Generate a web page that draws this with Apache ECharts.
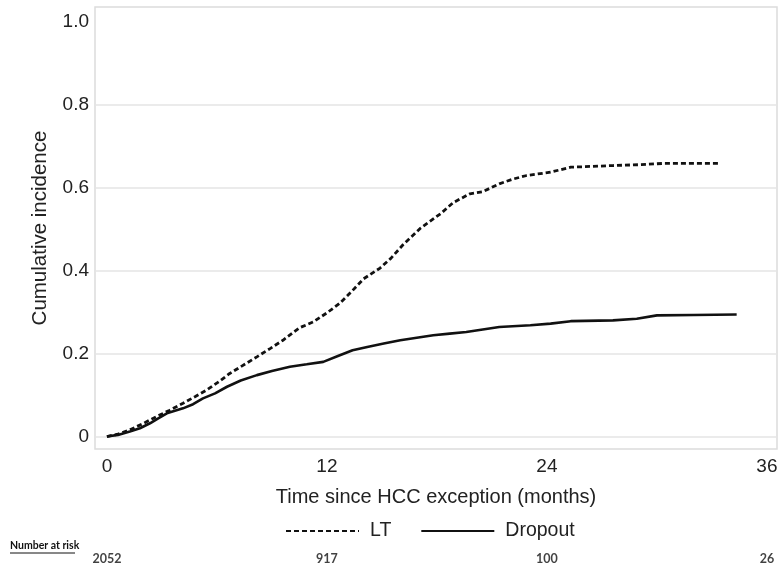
<!DOCTYPE html>
<html>
<head>
<meta charset="utf-8">
<script src="https://cdn.jsdelivr.net/npm/echarts@6/dist/echarts.min.js"></script>
<style>
    html, body { margin: 0; padding: 0; background: #fff; }
    #main { width: 783px; height: 574px; }
</style>
</head>
<body>
<div id="main"></div>
<script>
    // LT curve (months, cumulative incidence)
    var ltTime = [0, 0.6, 1.25, 2.0, 2.7, 3.4, 4.15, 4.8, 5.44, 6.1, 6.7, 7.4, 8.18, 8.9, 9.6, 10.5, 11.25, 12.0, 12.7, 13.4, 14.0, 14.9, 15.5, 16.15, 17.1, 18.2, 18.9, 19.8, 20.5, 21.4, 22.2, 22.9, 24.2, 25.3, 26.5, 27.6, 29.0, 30.3, 31.8, 33.4];
    var ltValue = [0, 0.006, 0.016, 0.032, 0.048, 0.063, 0.08, 0.096, 0.112, 0.132, 0.152, 0.171, 0.192, 0.212, 0.232, 0.262, 0.276, 0.298, 0.321, 0.352, 0.38, 0.406, 0.43, 0.462, 0.502, 0.537, 0.564, 0.585, 0.59, 0.609, 0.621, 0.629, 0.637, 0.649, 0.651, 0.653, 0.655, 0.658, 0.658, 0.658];
    // Dropout curve
    var dropTime = [0, 0.6, 1.25, 1.8, 2.35, 2.8, 3.27, 4.15, 4.7, 5.24, 5.9, 6.55, 7.3, 8.18, 9.0, 9.98, 10.9, 11.8, 12.6, 13.4, 14.2, 15.1, 16.0, 16.9, 17.8, 18.7, 19.6, 20.5, 21.4, 23.1, 24.2, 25.3, 27.6, 28.9, 30.0, 32.0, 34.35];
    var dropValue = [0, 0.004, 0.012, 0.02, 0.032, 0.044, 0.056, 0.068, 0.078, 0.092, 0.104, 0.12, 0.135, 0.148, 0.158, 0.168, 0.174, 0.18, 0.194, 0.208, 0.216, 0.224, 0.232, 0.238, 0.244, 0.248, 0.252, 0.258, 0.264, 0.268, 0.272, 0.278, 0.28, 0.284, 0.292, 0.293, 0.294];
    // number at risk
    var riskTime = [0, 12, 24, 36];
    var riskCount = ['2052', '917', '100', '26'];
    var xTicks = [0, 12, 24, 36];
    var yTicks = [0, 0.2, 0.4, 0.6, 0.8, 1.0];
    var yGrid = [0, 0.2, 0.4, 0.6, 0.8];

    function pairs(xs, ys) {
        var out = [];
        for (var i = 0; i < xs.length; i++) {
            out.push([xs[i], ys[i]]);
        }
        return out;
    }

    var chart = echarts.init(document.getElementById('main'));
    var font = 'Liberation Sans, Arial, sans-serif';

    var riskData = [];
    for (var i = 0; i < riskTime.length; i++) {
        riskData.push({ value: [riskTime[i], 0.5], label: { formatter: riskCount[i] } });
    }

    var option = {
        backgroundColor: '#fff',
        animation: false,
        textStyle: { fontFamily: font },
        grid: [{
            left: 95, right: 6, top: 7, bottom: 125,
            show: true,
            borderColor: '#dcdcdc',
            borderWidth: 1.5
        }, {
            left: 95, right: 6, top: 549, height: 20
        }],
        legend: {
            data: ['LT', 'Dropout'],
            left: 280,
            top: 516,
            itemWidth: 73,
            itemHeight: 3,
            itemGap: 29,
            itemStyle: { opacity: 0, borderWidth: 0 },
            textStyle: { fontSize: 19.5, color: '#222', fontFamily: font, padding: [0, 0, 0, 6] }
        },
        graphic: [{
            type: 'text',
            left: 10,
            top: 540,
            style: {
                text: 'Number at risk',
                font: 'bold 10.5px Lato, Liberation Sans, sans-serif',
                fill: '#111'
            }
        }, {
            type: 'line',
            shape: { x1: 10, y1: 553, x2: 75, y2: 553 },
            style: { stroke: '#111', lineWidth: 1 }
        }],
        xAxis: [{
            type: 'value',
            gridIndex: 0,
            min: -0.65,
            max: 36.55,
            name: 'Time since HCC exception (months)',
            nameLocation: 'middle',
            nameGap: 38,
            nameTextStyle: { fontSize: 20, color: '#222' },
            axisLine: { show: false },
            axisTick: { show: false, customValues: xTicks },
            splitLine: { show: false },
            axisLabel: {
                customValues: xTicks,
                fontSize: 19,
                color: '#222',
                margin: 8
            }
        }, {
            type: 'value',
            gridIndex: 1,
            min: -0.65,
            max: 36.55,
            show: false
        }],
        yAxis: [{
            type: 'value',
            gridIndex: 0,
            min: -0.03,
            max: 1.035,
            name: 'Cumulative incidence',
            nameLocation: 'middle',
            nameGap: 44,
            nameTextStyle: { fontSize: 20.5, color: '#222' },
            axisLine: { show: false },
            axisTick: { show: false, customValues: yGrid },
            splitLine: { show: true, lineStyle: { color: '#e4e4e4', width: 1.5 } },
            axisLabel: {
                customValues: yTicks,
                fontSize: 19,
                color: '#222',
                margin: 6,
                formatter: function (v) { return v === 0 ? '0' : v.toFixed(1); }
            }
        }, {
            type: 'value',
            gridIndex: 1,
            min: 0,
            max: 1,
            show: false
        }],
        series: [{
            name: 'LT',
            type: 'line',
            xAxisIndex: 0,
            yAxisIndex: 0,
            showSymbol: false,
            color: '#111',
            lineStyle: { color: '#111', width: 2.8, type: [5, 3] },
            data: pairs(ltTime, ltValue)
        }, {
            name: 'Dropout',
            type: 'line',
            xAxisIndex: 0,
            yAxisIndex: 0,
            showSymbol: false,
            color: '#111',
            lineStyle: { color: '#111', width: 2.6, type: 'solid' },
            data: pairs(dropTime, dropValue)
        }, {
            name: 'risk',
            type: 'scatter',
            xAxisIndex: 1,
            yAxisIndex: 1,
            symbolSize: 2,
            itemStyle: { color: 'rgba(0,0,0,0)' },
            label: {
                show: true,
                position: 'inside',
                fontFamily: 'Lato, Liberation Sans, sans-serif',
                fontWeight: 'bold',
                fontSize: 12.5,
                color: '#111'
            },
            data: riskData
        }]
    };
    chart.setOption(option);
</script>
</body>
</html>
